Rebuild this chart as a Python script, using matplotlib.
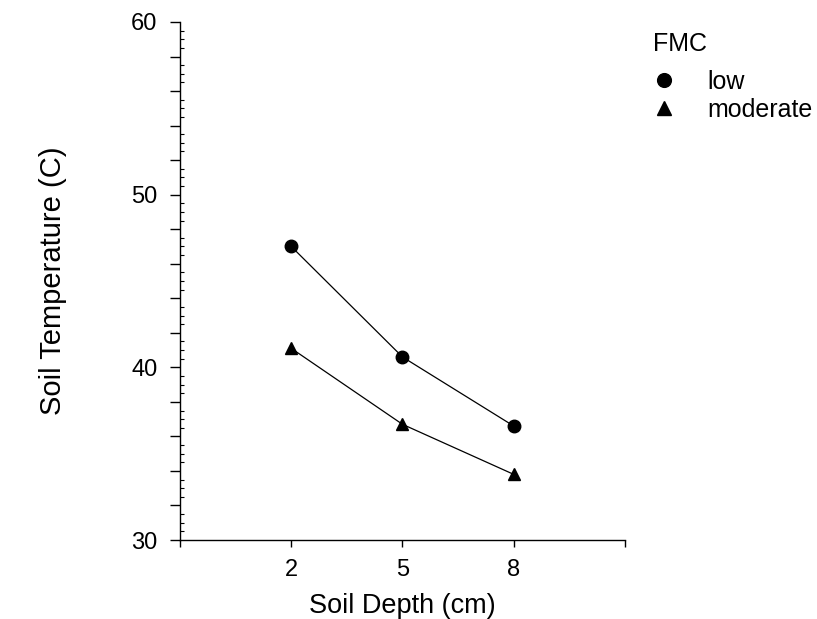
import matplotlib
matplotlib.use("Agg")
import matplotlib.pyplot as plt
from matplotlib.ticker import MultipleLocator

plt.rcParams['font.family'] = ['Liberation Sans', 'DejaVu Sans']

depth_labels = ["2", "5", "8"]
temp_low = [47.0, 40.6, 36.6]
temp_moderate = [41.1, 36.7, 33.8]

fig = plt.figure(figsize=(8.17, 6.19), dpi=100)
ax = fig.add_axes([0.2203, 0.1276, 0.5447, 0.8369])

pos = [1, 2, 3]
ax.plot(pos, temp_low, color="black", lw=0.9, marker="o", ms=9, label="low")
ax.plot(pos, temp_moderate, color="black", lw=0.9, marker="^", ms=9, label="moderate")

ax.set_xlim(0, 4)
ax.set_ylim(30, 60)
ax.set_xticks([0, 1, 2, 3, 4])
ax.set_xticklabels([""] + depth_labels + [""])
ax.yaxis.set_major_locator(MultipleLocator(2))
ax.yaxis.set_minor_locator(MultipleLocator(0.5))
ax.set_yticklabels([str(int(v)) if int(v) % 10 == 0 else "" for v in ax.get_yticks()])

for s in ["top", "right"]:
    ax.spines[s].set_visible(False)
for s in ["left", "bottom"]:
    ax.spines[s].set_linewidth(1.0)

ax.tick_params(axis="y", which="major", direction="out", length=7.2, width=1.0,
               labelsize=17, pad=9)
ax.tick_params(axis="x", which="major", direction="out", length=5, width=1.0,
               labelsize=17, pad=9)
ax.tick_params(axis="y", which="minor", direction="in", length=3, width=0.8)

ax.set_xlabel("Soil Depth (cm)", fontsize=19.5, labelpad=8)
ax.set_ylabel("Soil Temperature (C)", fontsize=21, labelpad=46)

# legend title placed as its own text, entries below it
fig.text(0.799, 1 - 44 / 619, "FMC", fontsize=18, ha="left", va="center")
leg = ax.legend(loc="upper left", bbox_to_anchor=(0.799, 1 - 70 / 619),
                bbox_transform=fig.transFigure, frameon=False, fontsize=18,
                handlelength=0.9, handletextpad=1.3,
                labelspacing=0.16, borderpad=0, borderaxespad=0,
                numpoints=1, markerscale=1.1)
for h in leg.legend_handles:
    h.set_linestyle("None")

fig.savefig("out.png", dpi=100)
